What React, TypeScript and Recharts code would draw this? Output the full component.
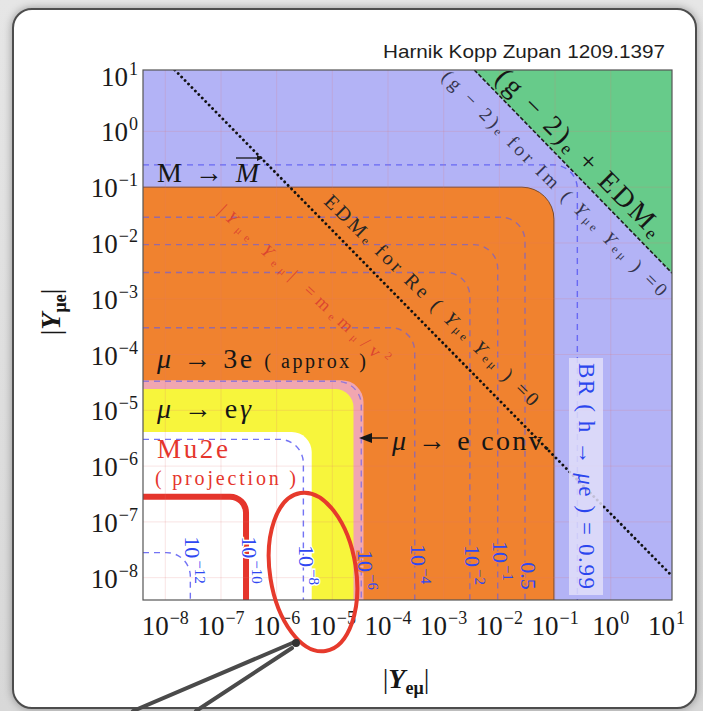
import React from 'react';
import { ComposedChart, XAxis, YAxis, ReferenceArea, ReferenceLine, Line } from 'recharts';

const SERIF = '"Liberation Serif", "DejaVu Serif", serif';
const SANS = '"Liberation Sans", Arial, sans-serif';

// axis range, log10 |Y|
const LOG_MIN = -8.4;
const LOG_MAX = 1.1;
const TICK_EXP = [-8, -7, -6, -5, -4, -3, -2, -1, 0, 1];

// shaded regions: log10 of the corner (|Y_eμ| edge, |Y_μe| edge)
const REGION_NAME = ['mu3e', 'muEconv', 'muEgamma', 'allowed'];
const REGION_X = [-1.02, -4.44, -4.62, -5.37];
const REGION_Y = [-1.0, -4.46, -4.62, -5.39];

// BR(h -> μe) contours, log10 of the level
const CONTOUR_BR = ['−12', '−10', '−8', '−6', '−4', '−2', '−1', '0.5', '0.99'];
const CONTOUR_LEVEL = [-7.55, -6.53, -5.52, -4.48, -3.52, -2.53, -2.03, -1.54, -0.6];

// Mu2e projection
const MU2E_LEVEL = -6.55;

// (g-2)_e + EDM_e boundary
const GREEN_X = [-2.45, 1.1];
const GREEN_Y = [1.1, -2.54];

// EDM_e for Re(Y_μe Y_eμ) = 0
const EDM_X = [-7.83, 1.08];
const EDM_Y = [1.1, -7.95];

const pow = (e: number) => Math.pow(10, e);
const VMIN = pow(LOG_MIN);
const VMAX = pow(LOG_MAX);

const REGION_FILL = ['#f0822f', '#f1a6b0', '#f7f53c', '#ffffff'];
const REGION_RADIUS = [32, 22, 18, 20];
const REGION_EDGE = ['#7a4a2a', 'none', 'none', 'none'];

const greenEdge = GREEN_X.map((e, i) => ({ x: pow(e), y: pow(GREEN_Y[i]) }));
const edmLine = EDM_X.map((e, i) => ({ x: pow(e), y: pow(EDM_Y[i]) }));

const supText = (e: number) => (e < 0 ? `−${-e}` : `${e}`);

const XTick = (props: any) => {
  const { x, y, payload } = props;
  const e = Math.round(Math.log10(payload.value));
  return (
    <text x={x} y={y + 35} textAnchor="middle" fontFamily={SERIF} fontSize={27} fill="#1a1a1a">
      10<tspan dy={-11} dx={1} fontSize={18}>{supText(e)}</tspan>
    </text>
  );
};

const YTick = (props: any) => {
  const { x, y, payload } = props;
  const e = Math.round(Math.log10(payload.value));
  return (
    <text x={x - 5} y={y + 10} textAnchor="end" fontFamily={SERIF} fontSize={27} fill="#1a1a1a">
      10<tspan dy={-11} dx={1} fontSize={18}>{supText(e)}</tspan>
    </text>
  );
};

const roundedRegion = (r: number, fill: string, edge: string) => (p: any) => {
  const { x, y, width: w, height: h } = p;
  const rr = Math.min(r, w, h);
  const top = `M${x},${y} H${x + w - rr} A${rr},${rr} 0 0 1 ${x + w},${y + rr} V${y + h}`;
  return (
    <g>
      <path d={`${top} H${x} Z`} fill={fill} stroke="none" />
      {edge !== 'none' && <path d={top} fill="none" stroke={edge} strokeWidth={1} />}
    </g>
  );
};

const cornerLine = (r: number, stroke: string, width: number, dash: string, opacity: number) => (p: any) => {
  const { x, y, width: w, height: h } = p;
  const rr = Math.min(r, w, h);
  return (
    <path
      d={`M${x},${y} H${x + w - rr} A${rr},${rr} 0 0 1 ${x + w},${y + rr} V${y + h}`}
      fill="none"
      stroke={stroke}
      strokeWidth={width}
      strokeDasharray={dash}
      strokeOpacity={opacity}
      strokeLinejoin="round"
    />
  );
};

const upperTriangle = (fill: string) => (p: any) => {
  const { x, y, width: w, height: h } = p;
  return <path d={`M${x},${y} H${x + w} V${y + h} Z`} fill={fill} />;
};

const CONTOUR_LABEL_POS = [
  [192, 560], [249, 560], [306, 565], [365, 570], [418, 564], [472, 565], [500, 561], [528, 576],
];
const CONTOUR_LABEL_BG = ['#ffffff', '#ffffff', '#ffffff', '#f0822f', '#f0822f', '#f0822f', '#f0822f', '#f0822f'];

function Overlay() {
  const blue = '#2f48f2';
  const ink = '#161616';
  return (
    <svg width={703} height={711} style={{ position: 'absolute', left: 0, top: 0, pointerEvents: 'none' }}>
      <rect x={143} y={70} width={529} height={530} fill="none" stroke="#555" strokeWidth={1.2} />

      <text x={665} y={58} textAnchor="end" fontFamily={SANS} fontSize={19} fill="#1e1e1e" textLength={282} lengthAdjust="spacingAndGlyphs">
        Harnik Kopp Zupan 1209.1397
      </text>

      {/* M -> M bar */}
      <text x={157} y={182} fontFamily={SERIF} fontSize={28} fill={ink} textLength={102} lengthAdjust="spacing">
        M → <tspan fontStyle="italic">M</tspan>
      </text>
      <line x1={236} y1={158} x2={262} y2={158} stroke={ink} strokeWidth={1.3} />
      <path d="M263,158 l-6,-3 v6 Z" fill={ink} />

      <text x={157} y={368} fontFamily={SERIF} fontSize={28} fill={ink} textLength={209} lengthAdjust="spacing">
        <tspan fontStyle="italic">μ</tspan> → 3e <tspan fontSize={20}>( approx )</tspan>
      </text>
      <text x={157} y={418} fontFamily={SERIF} fontSize={28} fill={ink} textLength={94} lengthAdjust="spacing">
        <tspan fontStyle="italic">μ</tspan> → e<tspan fontStyle="italic">γ</tspan>
      </text>
      <text x={157} y={458} fontFamily={SERIF} fontSize={27} fill="#e5352c" textLength={71} lengthAdjust="spacing">
        Mu2e
      </text>
      <text x={155} y={485} fontFamily={SERIF} fontSize={20} fill="#e5352c" textLength={141} lengthAdjust="spacing">
        ( projection )
      </text>

      <line x1={370} y1={438} x2={388} y2={438} stroke={ink} strokeWidth={1.4} />
      <path d="M359,438 l13,-5 v10 Z" fill={ink} />
      <text x={392} y={450} fontFamily={SERIF} fontSize={28} fill={ink} textLength={158} lengthAdjust="spacing">
        <tspan fontStyle="italic">μ</tspan> → e conv.
      </text>

      <text transform="translate(580,152) rotate(45)" textAnchor="middle" dominantBaseline="central" fontFamily={SERIF} fontSize={28} fill={ink} textLength={224} lengthAdjust="spacing">
        (g − 2)<tspan fontSize={18} dy={7}>e</tspan><tspan dy={-7}> + EDM</tspan><tspan fontSize={18} dy={7}>e</tspan>
      </text>

      <text transform="translate(555,183) rotate(45)" textAnchor="middle" dominantBaseline="central" fontFamily={SERIF} fontSize={19} fill="#35354f" textLength={310} lengthAdjust="spacing">
        (g − 2)<tspan fontSize={12} dy={4}>e</tspan><tspan dy={-4}> for  Im ( </tspan><tspan fontStyle="italic">Y</tspan><tspan fontSize={12} dy={4}>μe</tspan><tspan dy={-4} fontStyle="italic"> Y</tspan><tspan fontSize={12} dy={4}>eμ</tspan><tspan dy={-4}> ) =0</tspan>
      </text>

      <text transform="translate(432,300) rotate(44.5)" textAnchor="middle" dominantBaseline="central" fontFamily={SERIF} fontSize={20} fill="#262626" textLength={292} lengthAdjust="spacing">
        EDM<tspan fontSize={12} dy={4}>e</tspan><tspan dy={-4}>  for  Re ( </tspan><tspan fontStyle="italic">Y</tspan><tspan fontSize={12} dy={4}>μe</tspan><tspan dy={-4} fontStyle="italic"> Y</tspan><tspan fontSize={12} dy={4}>eμ</tspan><tspan dy={-4}> ) =0</tspan>
      </text>

      <text transform="translate(304,285) rotate(43)" textAnchor="middle" dominantBaseline="central" fontFamily={SERIF} fontSize={18} fill="#d83a30" fillOpacity={0.85} textLength={226} lengthAdjust="spacing">
        |<tspan fontStyle="italic">Y</tspan><tspan fontSize={11} dy={4}>μe</tspan><tspan dy={-4} fontStyle="italic"> Y</tspan><tspan fontSize={11} dy={4}>eμ</tspan><tspan dy={-4}>| =m</tspan><tspan fontSize={11} dy={4}>e</tspan><tspan dy={-4}>m</tspan><tspan fontSize={11} dy={4}>μ</tspan><tspan dy={-4}>/v</tspan><tspan fontSize={11} dy={-6}>2</tspan>
      </text>

      {CONTOUR_LABEL_POS.map(([cx, cy], i) => {
        const t = CONTOUR_BR[i];
        const isPow = t.startsWith('−');
        return (
          <text
            key={t}
            transform={`translate(${cx},${cy}) rotate(90)`}
            textAnchor="middle"
            dominantBaseline="central"
            fontFamily={SERIF}
            fontSize={22}
            fill={blue}
            stroke={CONTOUR_LABEL_BG[i]}
            strokeWidth={3}
            paintOrder="stroke"
          >
            {isPow ? (
              <>
                10<tspan dy={-8} dx={2} fontSize={15}>{t}</tspan>
              </>
            ) : (
              t
            )}
          </text>
        );
      })}

      <rect x={569} y={358} width={34} height={237} fill="#e0def9" fillOpacity={0.85} />
      <text transform="translate(586,476) rotate(90)" textAnchor="middle" dominantBaseline="central" fontFamily={SERIF} fontSize={23} fill="#2b46ee" textLength={226} lengthAdjust="spacing">
        BR ( h → <tspan fontStyle="italic">μ</tspan>e ) = {CONTOUR_BR[8]}
      </text>

      <text x={406} y={688} textAnchor="middle" fontFamily={SERIF} fontSize={28} fill={ink}>
        |<tspan fontWeight="bold" fontStyle="italic">Y</tspan><tspan fontSize={18} fontWeight="bold" dy={6}>eμ</tspan><tspan dy={-6}>|</tspan>
      </text>
      <text transform="translate(60,312) rotate(-90)" textAnchor="middle" fontFamily={SERIF} fontSize={28} fill={ink}>
        |<tspan fontWeight="bold" fontStyle="italic">Y</tspan><tspan fontSize={18} fontWeight="bold" dy={6}>μe</tspan><tspan dy={-6}>|</tspan>
      </text>

      <ellipse cx={313} cy={572} rx={43} ry={80} transform="rotate(-9,313,572)" fill="none" stroke="#e63a2c" strokeWidth={4} />
      <path d="M297,641 L133,711" stroke="#4a4a4a" strokeWidth={4} strokeLinecap="round" />
      <path d="M292,648 L196,711" stroke="#4a4a4a" strokeWidth={4} strokeLinecap="round" />
      <circle cx={296} cy={643} r={4} fill="#333" />
    </svg>
  );
}

export default function App() {
  return (
    <div style={{ position: 'absolute', left: 0, top: 0, width: 703, height: 711, overflow: 'hidden', background: 'linear-gradient(#e6e6e6, #d8d8d8)' }}>
      <div style={{ position: 'absolute', left: 12, top: 8, width: 681, height: 697, background: '#ffffff', border: '2px solid #4d4d4d', borderRadius: 20, boxShadow: '0 0 8px rgba(0,0,0,0.35)' }} />
      <div style={{ position: 'absolute', left: 0, top: 0 }}>
        <ComposedChart width={703} height={711} margin={{ top: 70, right: 31, bottom: 71, left: 0 }} style={{ fontFamily: SERIF }}>
          <XAxis
            type="number"
            dataKey="x"
            scale="log"
            domain={[VMIN, VMAX]}
            allowDataOverflow
            ticks={TICK_EXP.map(pow)}
            interval={0}
            tick={<XTick />}
            tickLine={false}
            axisLine={false}
            tickSize={0}
            tickMargin={0}
            height={40}
          />
          <YAxis
            type="number"
            dataKey="y"
            scale="log"
            domain={[VMIN, VMAX]}
            allowDataOverflow
            ticks={TICK_EXP.map(pow)}
            interval={0}
            tick={<YTick />}
            tickLine={false}
            axisLine={false}
            tickSize={0}
            tickMargin={0}
            width={143}
          />

          {/* BR(h -> μe) background */}
          <ReferenceArea x1={VMIN} x2={VMAX} y1={VMIN} y2={VMAX} fill="#b3b3f6" fillOpacity={1} ifOverflow="visible" />

          <ReferenceArea
            x1={pow(GREEN_X[0])}
            x2={VMAX}
            y1={pow(GREEN_Y[1])}
            y2={VMAX}
            ifOverflow="visible"
            shape={upperTriangle('#67cb8a')}
          />

          {REGION_NAME.map((name, i) => (
            <ReferenceArea
              key={name}
              x1={VMIN}
              x2={pow(REGION_X[i])}
              y1={VMIN}
              y2={pow(REGION_Y[i])}
              ifOverflow="visible"
              shape={roundedRegion(REGION_RADIUS[i], REGION_FILL[i], REGION_EDGE[i])}
            />
          ))}

          {TICK_EXP.slice(0, 9).map((e) => (
            <ReferenceLine key={'gx' + e} x={pow(e)} stroke="#e07a7a" strokeOpacity={0.2} strokeWidth={1} ifOverflow="visible" />
          ))}
          {TICK_EXP.slice(0, 9).map((e) => (
            <ReferenceLine key={'gy' + e} y={pow(e)} stroke="#e07a7a" strokeOpacity={0.2} strokeWidth={1} ifOverflow="visible" />
          ))}

          {CONTOUR_LEVEL.map((lv, i) => (
            <ReferenceArea
              key={'c' + i}
              x1={VMIN}
              x2={pow(lv)}
              y1={VMIN}
              y2={pow(lv)}
              ifOverflow="visible"
              shape={cornerLine(24, '#5a5af2', 1.4, '6 5', i >= 3 && i < 8 ? 0.6 : 0.85)}
            />
          ))}

          <ReferenceArea
            x1={VMIN}
            x2={pow(MU2E_LEVEL)}
            y1={VMIN}
            y2={pow(MU2E_LEVEL)}
            ifOverflow="visible"
            shape={cornerLine(16, '#e5352c', 6, '', 1)}
          />

          <Line
            data={greenEdge}
            dataKey="y"
            type="linear"
            stroke="#1e1e1e"
            strokeWidth={1.6}
            strokeDasharray="4 2"
            dot={false}
            activeDot={false}
            isAnimationActive={false}
          />
          <Line
            data={edmLine}
            dataKey="y"
            type="linear"
            stroke="#111"
            strokeWidth={2.8}
            strokeDasharray="0.1 4.8"
            strokeLinecap="round"
            dot={false}
            activeDot={false}
            isAnimationActive={false}
          />
        </ComposedChart>
      </div>
      <Overlay />
    </div>
  );
}
